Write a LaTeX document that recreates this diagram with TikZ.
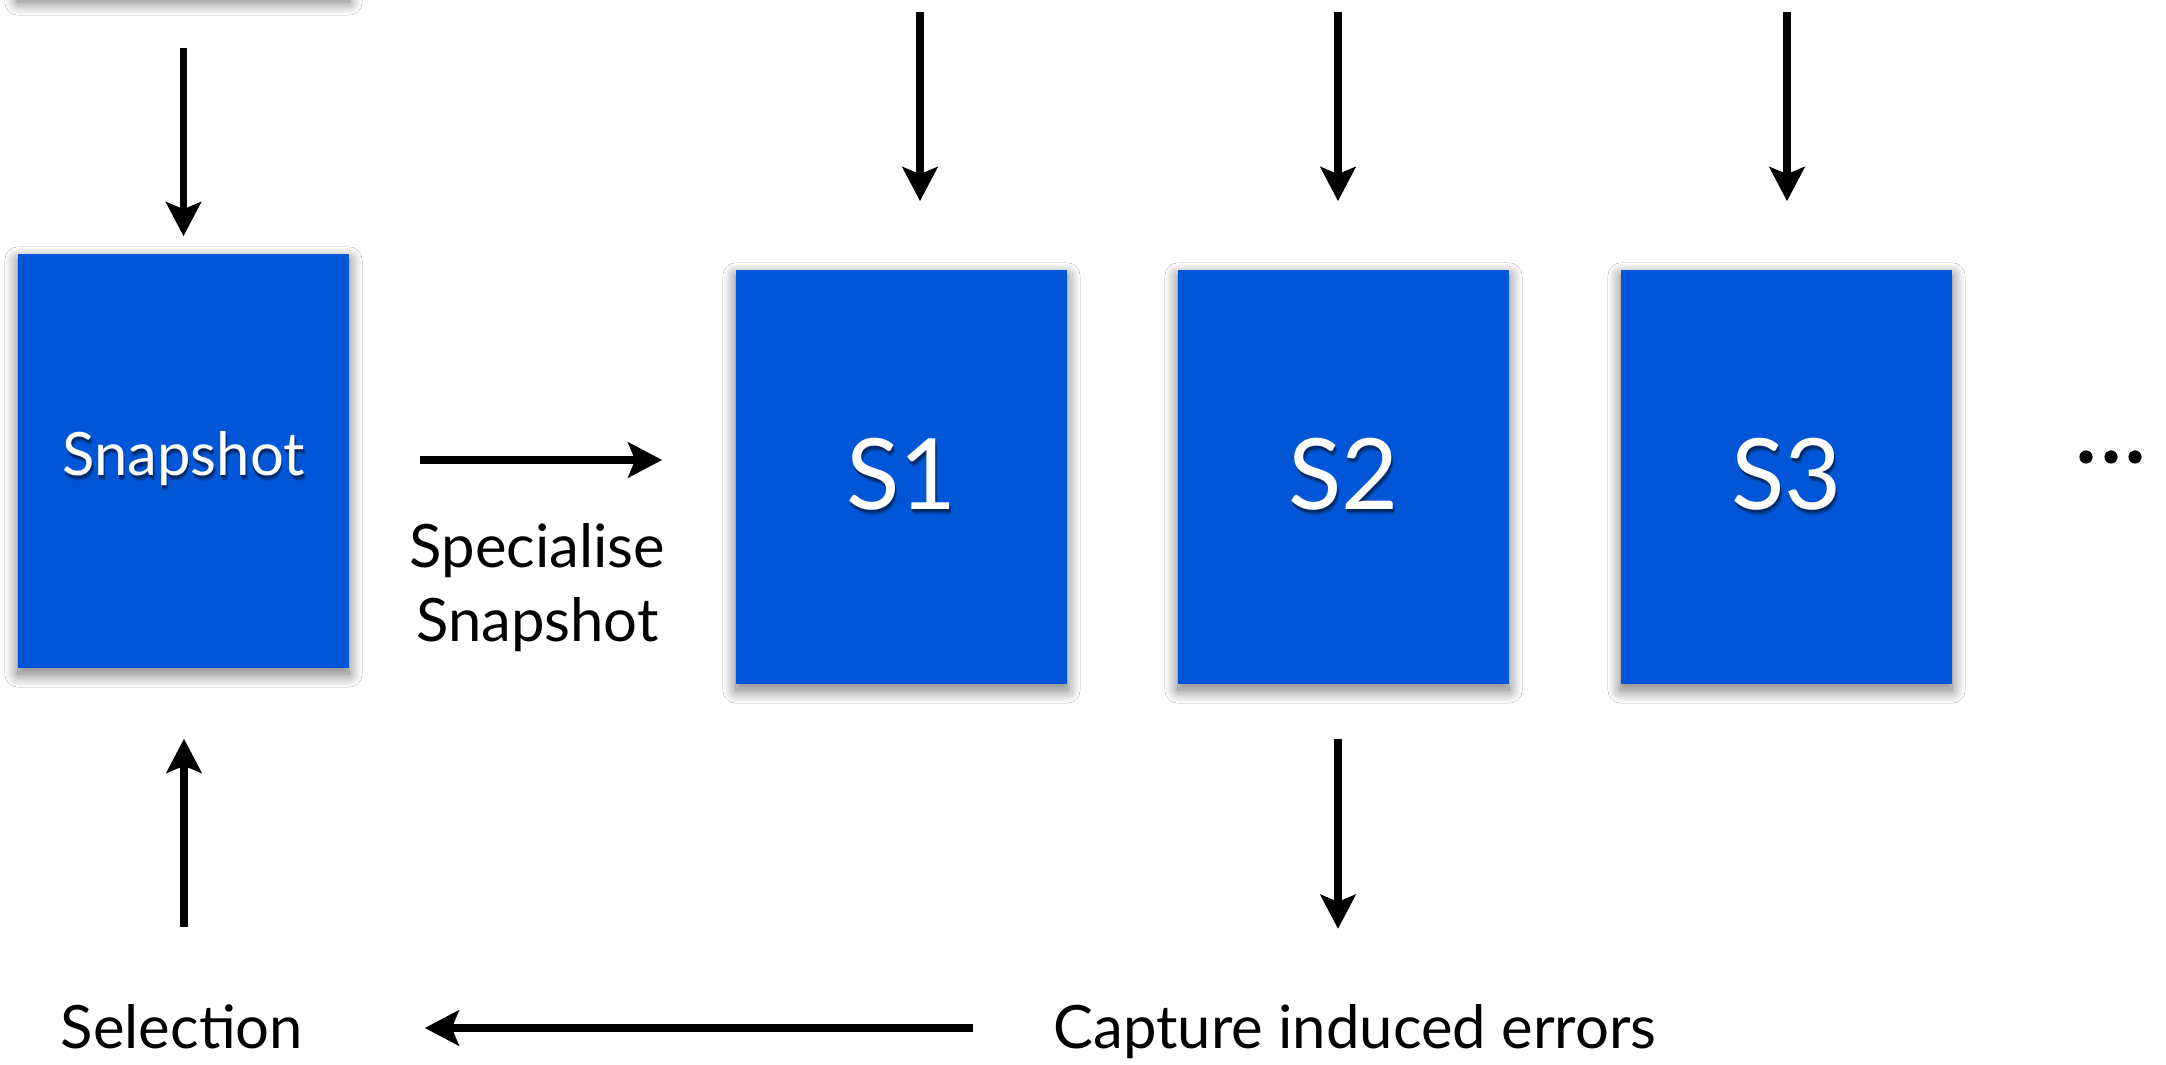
\documentclass[tikz,border=0pt]{standalone}
\usepackage{fontspec}
\setmainfont{Lato}
\usetikzlibrary{arrows.meta,shadows.blur,calc}

\definecolor{boxblue}{HTML}{0056D6}

% white text with a soft dark drop shadow
\newcommand\glowtext[1]{%
  \makebox[0pt][l]{\kern0.5pt\raisebox{-1.3pt}{\textcolor{boxblue!75!black}{#1}}}%
  \makebox[0pt][l]{\kern0.25pt\raisebox{-0.7pt}{\textcolor{boxblue!50!black}{#1}}}%
  #1}
\newcommand\labelsize{\fontsize{17pt}{21.05pt}\selectfont}
\newcommand\bigsize{\fontsize{28pt}{34pt}\selectfont}

\begin{document}
\begin{tikzpicture}[x=0.01cm, y=-0.01cm,
  snapbox/.style={fill=boxblue, minimum width=3.31cm, minimum height=4.14cm,
    inner sep=0pt, text=white,
    blur shadow={shadow xshift=0pt, shadow yshift=-0.06cm,
      shadow blur radius=0.13cm, shadow blur steps=24, shadow opacity=55}},
  flow/.style={line width=0.078cm,
    -{Stealth[length=0.34cm, width=0.35cm, inset=0.07cm]}},
  caption/.style={font=\labelsize, text=black, inner sep=0pt}]

  % canvas
  \fill[white] (0,0) rectangle (2166,1065);
  \useasboundingbox (0,0) rectangle (2166,1065);

  % boxes
  \node[snapbox] (prev) at (183.5,-211) {};
  \node[snapbox, font=\labelsize] (snap) at (183.5,461) {\glowtext{Snapshot}};
  \node[snapbox, font=\bigsize] (s1) at (901.5,477) {\glowtext{S1}};
  \node[snapbox, font=\bigsize] (s2) at (1343.5,477) {\glowtext{S2}};
  \node[snapbox, font=\bigsize] (s3) at (1786.5,477) {\glowtext{S3}};

  % captions (base of a two-line caption is its last line)
  \node[caption, align=center, anchor=base] (spec) at (537.5,642) {Specialise\\Snapshot};
  \node[caption, anchor=base] (sel) at (182,1049) {Selection};
  \node[caption, anchor=base] (cap) at (1355,1049) {Capture induced errors};

  % continuation dots
  \node[inner sep=0pt, minimum size=0pt] (more) at (2111,457) {};
  \foreach \dx in {-25,0,24}
    \fill ($(more)+(\dx,0)$) circle[radius=0.066cm];

  % incoming arrows
  \coordinate (in1) at (920,12);
  \coordinate (in2) at (1338,12);
  \coordinate (in3) at (1787,12);
  \draw[flow, shorten >=0.68cm] (in1) -- (in1 |- s1.north);
  \draw[flow, shorten >=0.68cm] (in2) -- (in2 |- s2.north);
  \draw[flow, shorten >=0.68cm] (in3) -- (in3 |- s3.north);
  \draw[flow] ($(prev.south)+(0,51)$) -- ($(snap.north)+(0,-17)$);

  % main flow
  \draw[flow] ($(snap.east)+(70,-1)$) -- ($(s1.west |- snap.east)+(-73,-1)$);
  \draw[flow] ($(s2.south)+(-5.5,54)$) -- ($(s2.south)+(-5.5,244)$);
  \draw[flow] ($(cap.base west)+(-80,-21)$) -- ($(sel.base east)+(121,-21)$);
  \draw[flow] ($(sel.north)+(2,-77)$) -- ($(snap.south)+(0.5,70)$);
\end{tikzpicture}
\end{document}
